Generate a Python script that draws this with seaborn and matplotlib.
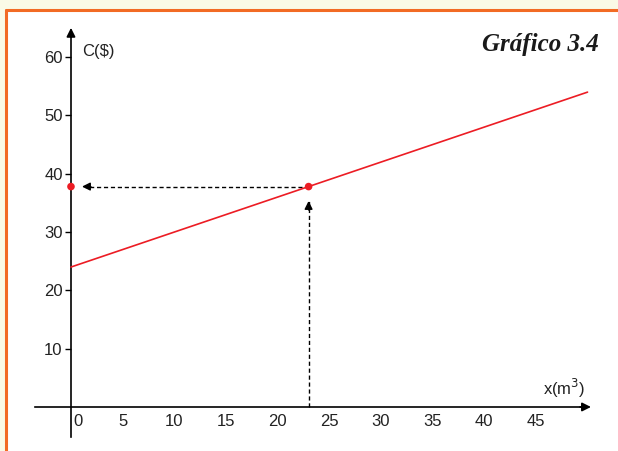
import numpy as np
import pandas as pd
import matplotlib
matplotlib.use("Agg")
import matplotlib.pyplot as plt
import matplotlib.transforms as mtransforms
from matplotlib.patches import Rectangle
import seaborn as sns

# data: C = 24 + 0.6x
x_vals = [0, 50]
cost_vals = [24, 54]
point_x = [0, 23]
point_y = [37.8, 37.8]
x_ticks = [0, 5, 10, 15, 20, 25, 30, 35, 40, 45]
y_ticks = [10, 20, 30, 40, 50, 60]

sns.set_theme(style="white")
plt.rcParams['font.family'] = ['Liberation Sans', 'DejaVu Sans']

cream = "#fafae6"
orange = "#f26b24"
red = "#ec1c24"

fig = plt.figure(figsize=(6.18, 4.51), dpi=100, facecolor=cream)
# white panel with orange frame
fig.add_artist(Rectangle((7 / 618, 0), 1, (451 - 11) / 451, transform=fig.transFigure,
                         facecolor="white", edgecolor="none", zorder=-10))
fig.add_artist(plt.Line2D([6 / 618, 1], [1 - 10 / 451, 1 - 10 / 451], color=orange, lw=2.2,
                          transform=fig.transFigure, zorder=-9))
fig.add_artist(plt.Line2D([6 / 618, 6 / 618], [0, 1 - 10 / 451], color=orange, lw=2.2,
                          transform=fig.transFigure, zorder=-9))

ax = fig.add_axes([0, 0, 1, 1])
ax.patch.set_alpha(0)
ax.set_xlim(-6.87, 52.95)
ax.set_ylim(-7.55, 69.8)

df = pd.DataFrame({"x": x_vals, "C": cost_vals})
sns.lineplot(data=df, x="x", y="C", color=red, lw=1.2, ax=ax, zorder=3)

pts = pd.DataFrame({"x": point_x, "C": point_y})
sns.scatterplot(data=pts, x="x", y="C", color=red, s=30, edgecolor="none", ax=ax, zorder=5)

# dashed guides
ax.plot([point_x[1], 1.4], [point_y[1]] * 2, ls=(0, (3, 2)), color="black", lw=1, zorder=2)
ax.plot([point_x[1]] * 2, [0, 35.4], ls=(0, (3, 2)), color="black", lw=1, zorder=2)
ax.annotate("", xy=(0.8, point_y[1]), xytext=(2.2, point_y[1]),
            arrowprops=dict(arrowstyle="-|>", color="black", lw=1, mutation_scale=12), zorder=4)
ax.annotate("", xy=(point_x[1], 35.8), xytext=(point_x[1], 33.3),
            arrowprops=dict(arrowstyle="-|>", color="black", lw=1, mutation_scale=12), zorder=4)

# axes through origin
for s in ["top", "right"]:
    ax.spines[s].set_visible(False)
ax.spines["left"].set_position(("data", 0))
ax.spines["bottom"].set_position(("data", 0))
ax.spines["left"].set_bounds(-5.2, 64)
ax.spines["bottom"].set_bounds(-3.5, 50)
for s in ["left", "bottom"]:
    ax.spines[s].set_color("black")
    ax.spines[s].set_linewidth(1.2)

ax.annotate("", xy=(0, 65.5), xytext=(0, 63),
            arrowprops=dict(arrowstyle="-|>", color="black", lw=1.2, mutation_scale=13))
ax.annotate("", xy=(50.6, 0), xytext=(49, 0),
            arrowprops=dict(arrowstyle="-|>", color="black", lw=1.2, mutation_scale=13))

ax.set_xticks(x_ticks)
ax.set_xticklabels([str(t) for t in x_ticks])
ax.set_yticks(y_ticks)
ax.set_yticklabels([str(t) for t in y_ticks])
ax.tick_params(axis="y", direction="out", length=4, width=1, color="black", pad=2,
               labelsize=12, labelcolor="#222222", left=True)
ax.tick_params(axis="x", direction="out", length=0, pad=5,
               labelsize=12, labelcolor="#222222", bottom=True)
lbl0 = ax.get_xticklabels()[0]
lbl0.set_transform(lbl0.get_transform() + mtransforms.ScaledTranslation(7 / 100, 0, fig.dpi_scale_trans))
ax.set_xlabel("")
ax.set_ylabel("")

ax.text(1.1, 61, "C($)", fontsize=12, color="#222222", va="center", ha="left")
ax.text(45.7, 1.2, "x(m$^3$)", fontsize=12, color="#222222", va="bottom", ha="left")

fig.text(599 / 618, 1 - 45 / 451, "Gráfico 3.4", fontsize=18, fontweight="bold", fontstyle="italic",
         family=["Liberation Serif", "DejaVu Serif"], color="#1a1a1a", ha="right", va="center")

fig.savefig("out.png", dpi=100, facecolor=cream)
